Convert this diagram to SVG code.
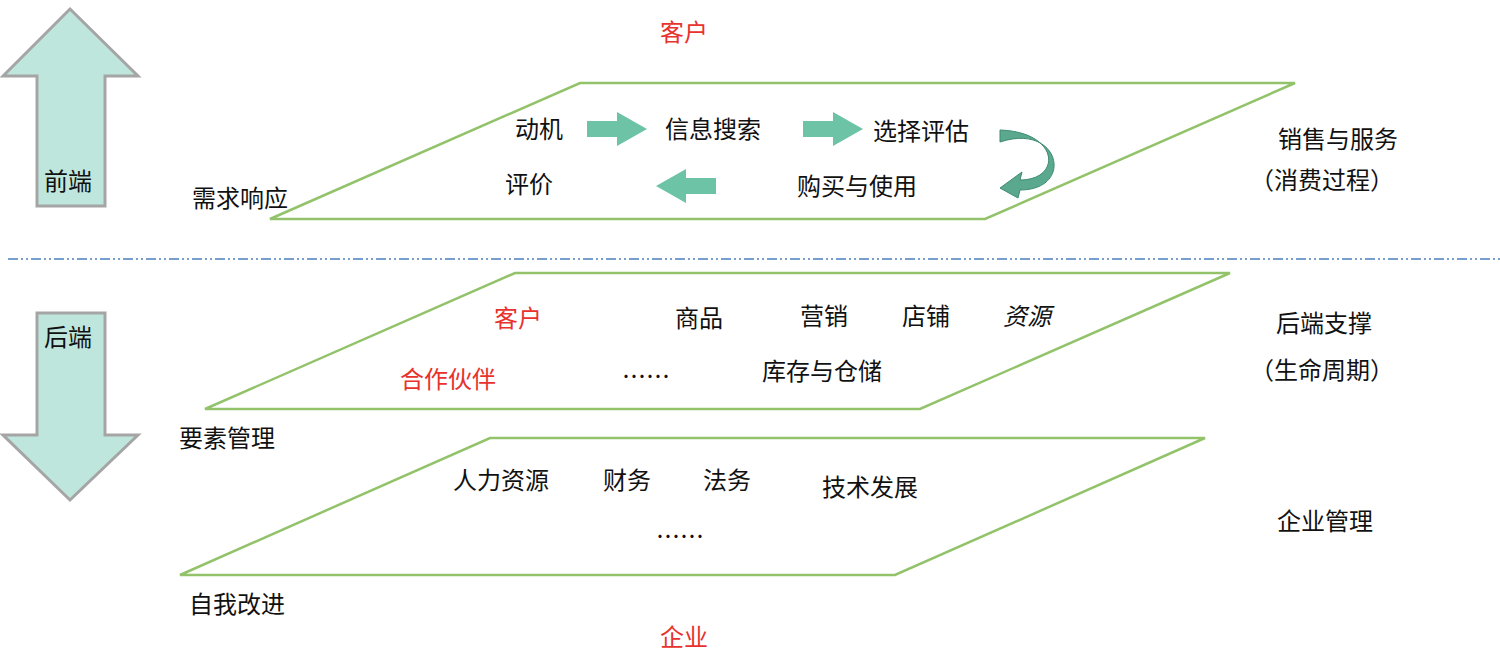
<svg xmlns="http://www.w3.org/2000/svg" width="1500" height="672" viewBox="0 0 1500 672">
<style>
text{font-family:"Noto Sans CJK SC","Liberation Sans",sans-serif;font-size:24px;fill:#111}
.red{fill:#e8322d}
.plane{fill:none;stroke:#92c36a;stroke-width:2.5}
.big{fill:#bfe6dd;stroke:#a5a5a5;stroke-width:3}
.ga{fill:#6cc3a6}
</style>
<rect width="1500" height="672" fill="#fff"/>
<g id="arrow-front"><polygon class="big" points="70,9 138,76 105,76 105,206 37,206 37,76 3,76"/><text x="44" y="190">前端</text></g>
<g id="arrow-back"><polygon class="big" points="37,313 105,313 105,435 138,435 70,500 3,435 37,435"/><text x="44" y="346">后端</text></g>
<line x1="8" y1="259" x2="1500" y2="259" stroke="#4a7fc0" stroke-width="1.5" stroke-dasharray="10,3,2,3,2,3"/>
<g id="plane-sales"><polygon class="plane" points="580,83 1295,83 985,219 270,219"/>
<text x="515" y="138">动机</text><text x="665" y="138">信息搜索</text><text x="873" y="140">选择评估</text>
<text x="505" y="193">评价</text><text x="797" y="195">购买与使用</text></g>
<g id="connectors">
<polygon class="ga" points="587,121 617,121 617,112 647,129 617,146 617,137 587,137"/>
<polygon class="ga" points="803,121 833,121 833,112 863,129 833,146 833,137 803,137"/>
<polygon class="ga" points="716,178 686,178 686,169 656,186 686,203 686,194 716,194"/>
<path d="M1000,130 C1060,132 1062,180 1020,180 L1022,172 L1000,188 L1018,198 L1020,190 C1075,190 1060,122 1000,142 Z" fill="#5aa88e" stroke="#3f8a72" stroke-width="1"/>
</g>
<g id="plane-elements"><polygon class="plane" points="515,273 1230,273 920,409 205,409"/>
<text class="red" x="494" y="327">客户</text><text x="675" y="327">商品</text><text x="800" y="325">营销</text><text x="902" y="325">店铺</text><text x="1003" y="325" font-style="italic">资源</text>
<text class="red" x="400" y="388">合作伙伴</text><text x="622" y="385">……</text><text x="762" y="380">库存与仓储</text></g>
<g id="plane-enterprise"><polygon class="plane" points="490,438 1205,438 895,575 180,575"/>
<text x="453" y="489">人力资源</text><text x="603" y="489">财务</text><text x="703" y="489">法务</text><text x="822" y="496">技术发展</text>
<text x="656" y="545">……</text></g>
<text class="red" x="660" y="41" font-size="26">客户</text>
<text class="red" x="660" y="646" font-size="26">企业</text>
<text x="192" y="207">需求响应</text>
<text x="179" y="447">要素管理</text>
<text x="189" y="613">自我改进</text>
<text x="1278" y="148">销售与服务</text>
<text x="1250" y="189">（消费过程）</text>
<text x="1276" y="332">后端支撑</text>
<text x="1250" y="379">（生命周期）</text>
<text x="1277" y="530">企业管理</text>
</svg>
